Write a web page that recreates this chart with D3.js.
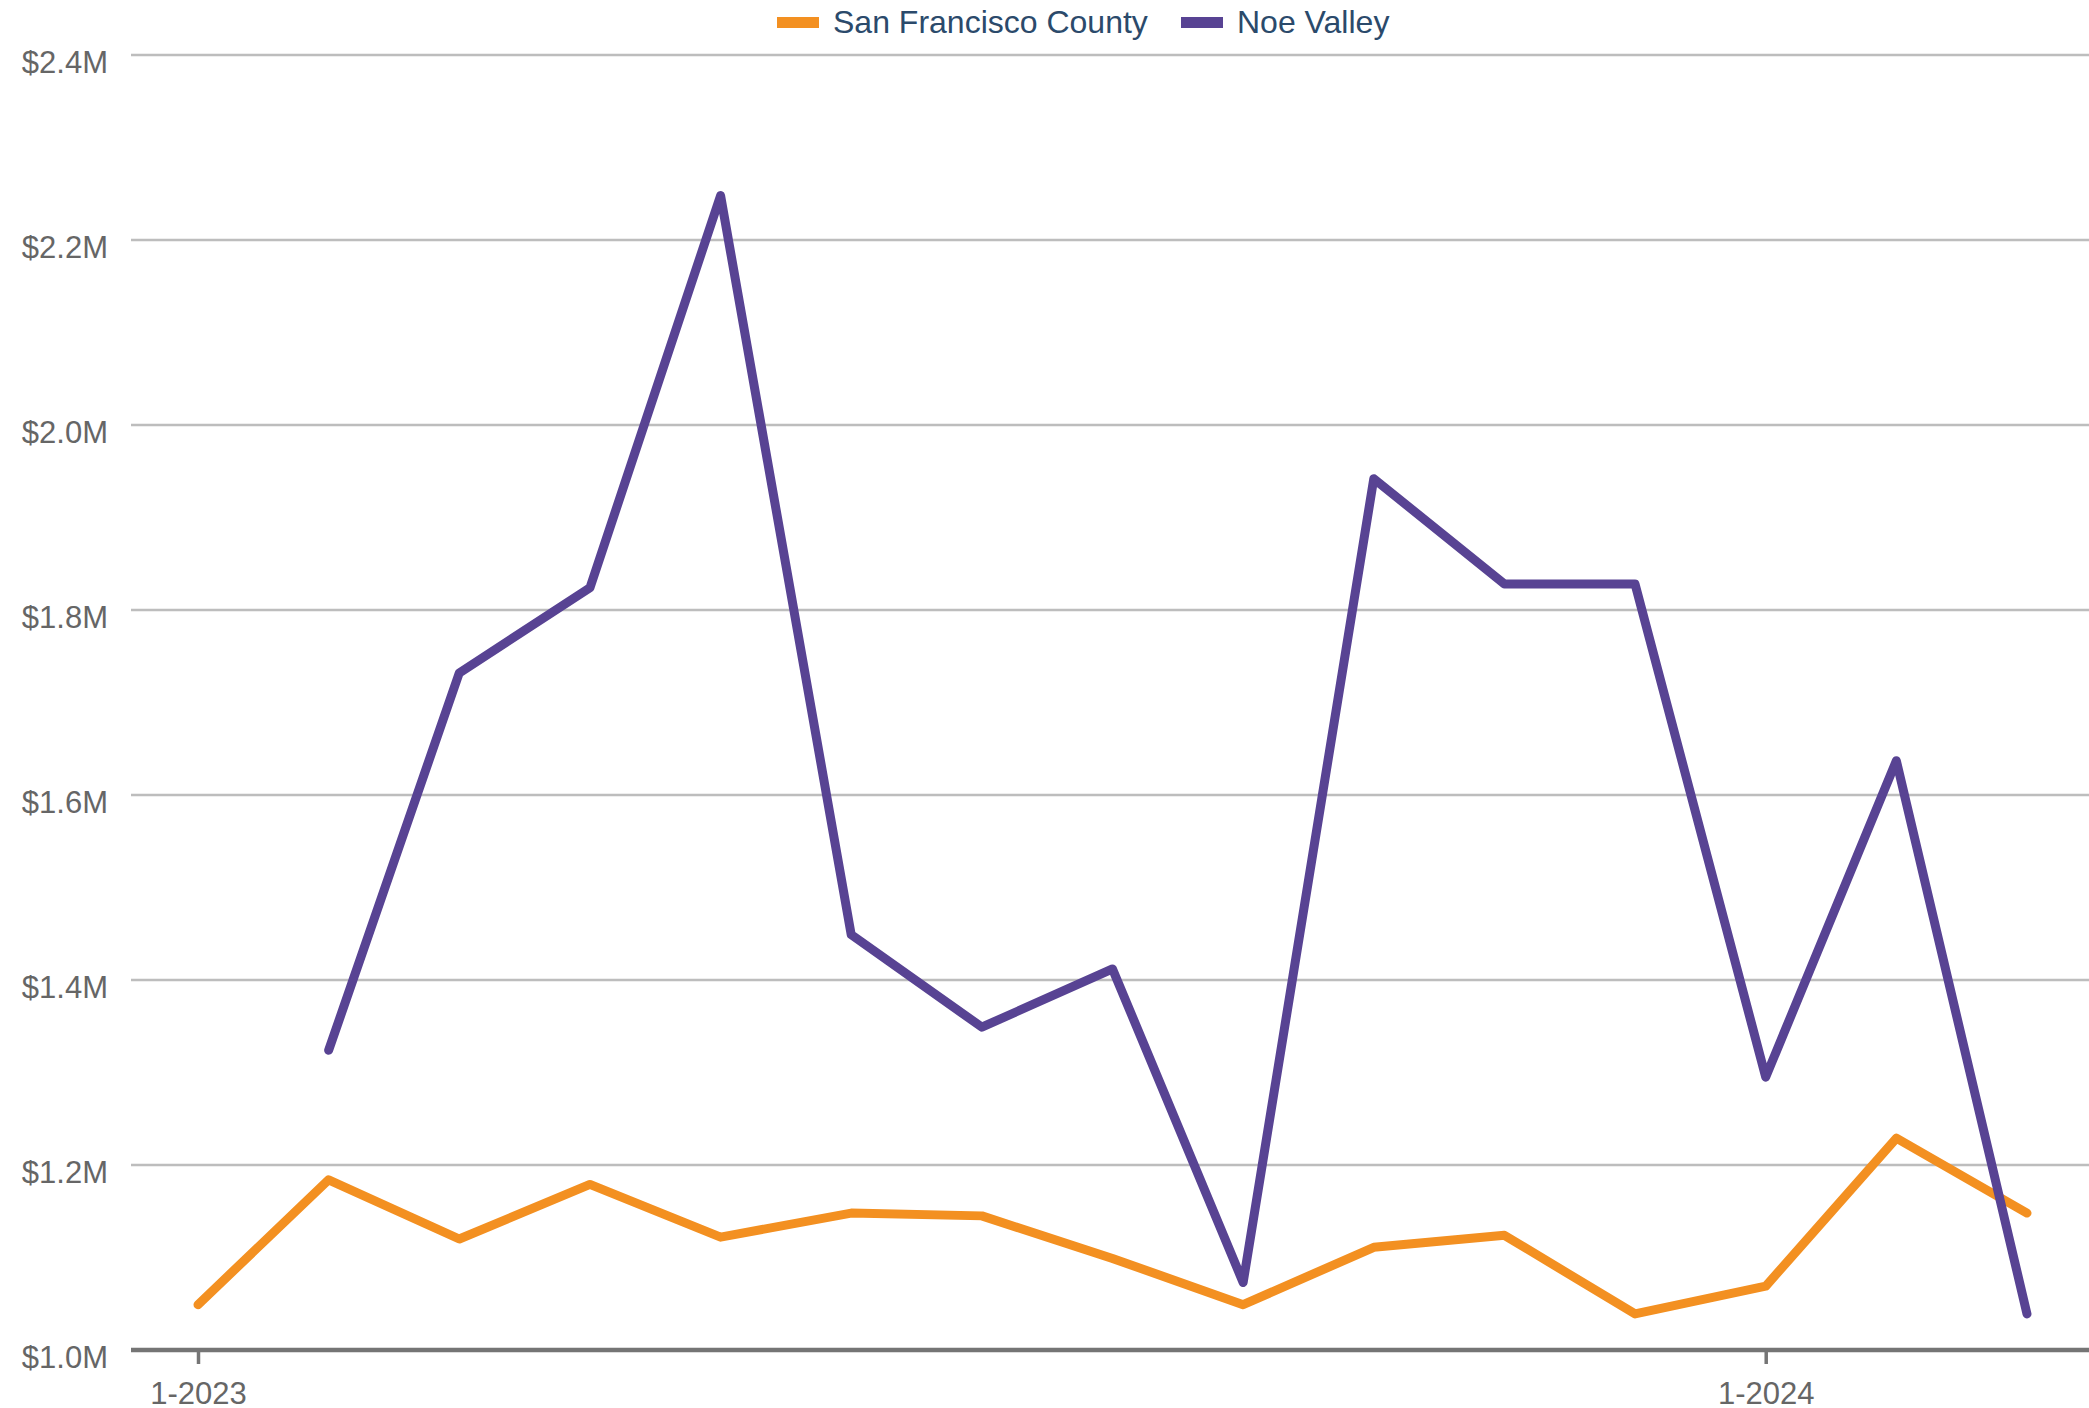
<!DOCTYPE html>
<html>
<head>
<meta charset="utf-8">
<script src="https://cdn.jsdelivr.net/npm/d3@7"></script>
<style>
  body { margin: 0; background: #fff; }
  text { font-family: "Liberation Sans", Arial, sans-serif; }
</style>
</head>
<body>
<svg id="chart" width="2089" height="1408"></svg>
<script>
var months = ["1-2023","2-2023","3-2023","4-2023","5-2023","6-2023","7-2023","8-2023","9-2023","10-2023","11-2023","12-2023","1-2024","2-2024","3-2024"];
var sfCounty = [1.049, 1.184, 1.120, 1.179, 1.122, 1.148, 1.145, 1.099, 1.049, 1.111, 1.124, 1.039, 1.069, 1.229, 1.148];
var noeValley = [null, 1.324, 1.732, 1.824, 2.248, 1.449, 1.349, 1.412, 1.073, 1.942, 1.828, 1.828, 1.295, 1.637, 1.039];
var yTicks = [1.0, 1.2, 1.4, 1.6, 1.8, 2.0, 2.2, 2.4];
var xLabels = ["1-2023", "1-2024"];

var series = [
  { name: "San Francisco County", values: sfCounty, color: "#f39021" },
  { name: "Noe Valley", values: noeValley, color: "#584393" }
];

var svg = d3.select("#chart"),
  width = +svg.attr("width");

var x = d3.scaleLinear().domain([0, months.length - 1]).range([198, 2027]),
  y = d3.scaleLinear().domain([1.0, 2.4]).range([1350, 55]);

// grid + y labels
var yAxis = svg.append("g")
  .attr("transform", "translate(131,0)")
  .call(d3.axisLeft(y).tickValues(yTicks).tickSize(0).tickPadding(23)
    .tickFormat(function(d) { return "$" + d3.format(".1f")(d) + "M"; }));
yAxis.select(".domain").remove();
yAxis.selectAll("text")
  .attr("fill", "#666")
  .attr("font-size", "31px")
  .attr("dy", "0.58em");

svg.append("g")
  .selectAll("line")
  .data(yTicks.slice(1))
  .enter()
  .append("line")
  .attr("x1", 131)
  .attr("x2", width)
  .attr("y1", function(d) { return y(d); })
  .attr("y2", function(d) { return y(d); })
  .attr("stroke", "#bdbdbd")
  .attr("stroke-width", 2.5);

// x axis
var xAxis = svg.append("g")
  .attr("transform", "translate(0," + y(1.0) + ")")
  .call(d3.axisBottom(x)
    .tickValues(xLabels.map(function(l) { return months.indexOf(l); }))
    .tickSize(14).tickPadding(18)
    .tickFormat(function(i) { return months[i]; }));
xAxis.select(".domain").remove();
xAxis.selectAll(".tick line").attr("stroke", "#757575").attr("stroke-width", 3.5);
xAxis.selectAll("text").attr("fill", "#666").attr("font-size", "31px");
xAxis.insert("line", ":first-child")
  .attr("x1", 131).attr("x2", width)
  .attr("stroke", "#757575").attr("stroke-width", 4.5);

// lines
var line = d3.line()
  .defined(function(d) { return d != null; })
  .x(function(d, i) { return x(i); })
  .y(function(d) { return y(d); });

svg.append("g")
  .selectAll("path")
  .data(series)
  .enter()
  .append("path")
  .attr("d", function(s) { return line(s.values); })
  .attr("fill", "none")
  .attr("stroke", function(s) { return s.color; })
  .attr("stroke-width", 9)
  .attr("stroke-linecap", "round")
  .attr("stroke-linejoin", "round");

// legend
var legendX = [777, 1181];
var legend = svg.append("g")
  .selectAll("g")
  .data(series)
  .enter()
  .append("g")
  .attr("transform", function(d, i) { return "translate(" + legendX[i] + ",0)"; });
legend.append("rect")
  .attr("y", 17).attr("width", 42).attr("height", 11)
  .attr("fill", function(d) { return d.color; });
legend.append("text")
  .attr("x", 56).attr("y", 33)
  .attr("font-size", "32px")
  .attr("fill", "#2b4a6b")
  .text(function(d) { return d.name; });
</script>
</body>
</html>
